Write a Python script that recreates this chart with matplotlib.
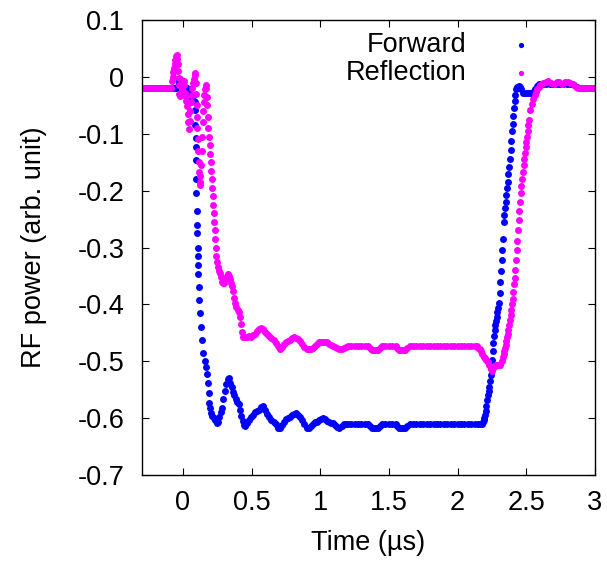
import matplotlib
matplotlib.use("Agg")
import matplotlib.pyplot as plt

plt.rcParams['font.family'] = ['Liberation Sans', 'DejaVu Sans']
plt.rcParams['axes.unicode_minus'] = False

# ---------------- data ----------------
fwd_t = [-0.30, -0.28, -0.26, -0.24, -0.22, -0.20, -0.18, -0.16, -0.14, -0.12, -0.10, -0.08, -0.06,
         -0.05, -0.04, -0.03, -0.025, -0.02, -0.01, 0.00, 0.01, 0.02, 0.03, 0.04, 0.05, 0.06, 0.07, 0.08, 0.088,
         0.090, 0.091, 0.092, 0.093, 0.094, 0.096, 0.098, 0.100, 0.102, 0.104, 0.107, 0.109, 0.111, 0.113,
         0.115, 0.119, 0.124, 0.130, 0.138, 0.148, 0.160, 0.168, 0.175, 0.182, 0.187, 0.192, 0.198, 0.206,
         0.215, 0.225, 0.235, 0.245, 0.255, 0.265, 0.275, 0.285, 0.295, 0.305, 0.315, 0.325, 0.335, 0.345,
         0.355, 0.365, 0.375, 0.385, 0.395, 0.405, 0.415, 0.425, 0.435, 0.445, 0.455, 0.465, 0.48, 0.495,
         0.51, 0.525, 0.54, 0.555, 0.57, 0.585, 0.60, 0.615, 0.63, 0.645, 0.66, 0.675, 0.69, 0.705, 0.72,
         0.735, 0.75, 0.765, 0.78, 0.795, 0.81, 0.825, 0.84, 0.855, 0.87, 0.885, 0.90, 0.915, 0.93, 0.945,
         0.96, 0.975, 0.99, 1.005, 1.02, 1.035, 1.05, 1.065, 1.08, 1.095, 1.11, 1.125, 1.14, 1.155, 1.17,
         1.185, 1.20, 1.225, 1.25, 1.275, 1.30, 1.325, 1.35, 1.36, 1.375, 1.39, 1.405, 1.42, 1.435, 1.45,
         1.475, 1.50, 1.525, 1.55, 1.56, 1.575, 1.59, 1.605, 1.62, 1.635, 1.65, 1.675, 1.70, 1.725, 1.75,
         1.775, 1.80, 1.825, 1.85, 1.875, 1.90, 1.925, 1.95, 1.975, 2.00, 2.025, 2.05, 2.075, 2.10, 2.125,
         2.15, 2.165, 2.18, 2.185, 2.19, 2.195, 2.20, 2.205, 2.21, 2.215, 2.22, 2.225, 2.23, 2.235, 2.24,
         2.245, 2.25, 2.255, 2.26, 2.265, 2.27, 2.275, 2.28, 2.285, 2.29, 2.295, 2.30, 2.305,
         2.31, 2.315, 2.32, 2.325, 2.33, 2.335, 2.34, 2.345, 2.35, 2.355, 2.36, 2.365, 2.37, 2.375, 2.38,
         2.385, 2.39, 2.395, 2.40, 2.405, 2.41, 2.415, 2.42, 2.428, 2.435, 2.445, 2.455, 2.465, 2.475, 2.49,
         2.505, 2.52, 2.535, 2.55, 2.565, 2.58, 2.595, 2.62, 2.645, 2.67, 2.695, 2.72, 2.745, 2.77, 2.795,
         2.82, 2.845, 2.87, 2.895, 2.92, 2.945, 2.97, 2.995]
fwd_v = [-0.020, -0.020, -0.020, -0.020, -0.020, -0.020, -0.020, -0.020, -0.020, -0.020, -0.020, -0.020, -0.020,
         -0.020, -0.018, -0.010, -0.005, -0.004, -0.010, -0.015, -0.018, -0.020, -0.020, -0.025, -0.030, -0.035, -0.038, -0.042, -0.044,
         -0.058, -0.085, -0.108, -0.123, -0.147, -0.180, -0.204, -0.235, -0.260, -0.275, -0.300, -0.315, -0.331, -0.347,
         -0.369, -0.392, -0.415, -0.439, -0.463, -0.485, -0.500, -0.510, -0.522, -0.538, -0.556, -0.573, -0.583, -0.591,
         -0.597, -0.600, -0.604, -0.609, -0.607, -0.598, -0.590, -0.582, -0.566, -0.552, -0.540, -0.532, -0.530, -0.538,
         -0.546, -0.554, -0.560, -0.566, -0.572, -0.576, -0.585, -0.596, -0.605, -0.612, -0.614, -0.609, -0.603, -0.598,
         -0.594, -0.590, -0.588, -0.585, -0.580, -0.578, -0.586, -0.593, -0.598, -0.603, -0.607, -0.611, -0.617, -0.617, -0.612,
         -0.606, -0.602, -0.600, -0.598, -0.595, -0.592, -0.591, -0.594, -0.598, -0.604, -0.611, -0.617, -0.617, -0.614, -0.610,
         -0.607, -0.606, -0.603, -0.601, -0.600, -0.601, -0.605, -0.607, -0.608, -0.609, -0.612, -0.616, -0.617, -0.614, -0.611,
         -0.610, -0.610, -0.610, -0.610, -0.610, -0.610, -0.610, -0.610, -0.613, -0.617, -0.617, -0.617, -0.617, -0.613, -0.610,
         -0.610, -0.610, -0.610, -0.610, -0.613, -0.617, -0.617, -0.617, -0.617, -0.613, -0.610, -0.610, -0.610, -0.610, -0.610,
         -0.610, -0.610, -0.610, -0.610, -0.610, -0.610, -0.610, -0.610, -0.610, -0.610, -0.610, -0.610, -0.610, -0.610, -0.610,
         -0.610, -0.610, -0.610, -0.607, -0.603, -0.599, -0.595, -0.588, -0.578, -0.569, -0.560, -0.553, -0.545, -0.535, -0.525,
         -0.511, -0.497, -0.482, -0.468, -0.456, -0.445, -0.437, -0.430, -0.422, -0.414, -0.406, -0.398, -0.380,
         -0.360, -0.342, -0.322, -0.304, -0.285, -0.255, -0.242, -0.230, -0.220, -0.208, -0.196, -0.184, -0.170, -0.158, -0.144,
         -0.128, -0.112, -0.096, -0.082, -0.068, -0.054, -0.042, -0.031, -0.022, -0.017, -0.016, -0.018, -0.022, -0.028, -0.029,
         -0.029, -0.029, -0.029, -0.027, -0.022, -0.016, -0.012, -0.012, -0.012, -0.012, -0.012, -0.012, -0.012, -0.012, -0.012,
         -0.012, -0.014, -0.018, -0.020, -0.020, -0.020, -0.020, -0.020]

ref_t = [-0.30, -0.28, -0.26, -0.24, -0.22, -0.20, -0.18, -0.16, -0.14, -0.12, -0.10, -0.09,
         -0.08, -0.075, -0.07, -0.065, -0.06, -0.055, -0.05, -0.045, -0.04, -0.037, -0.034, -0.031, -0.028,
         -0.025, -0.02, -0.015, -0.01, -0.005, 0.0, 0.005, 0.01, 0.015, 0.02, 0.025, 0.03, 0.035, 0.04, 0.045,
         0.05, 0.055, 0.06, 0.065, 0.07, 0.075, 0.08, 0.085, 0.09, 0.094, 0.097, 0.10, 0.103, 0.106, 0.109,
         0.112, 0.115, 0.118, 0.121, 0.124, 0.128, 0.132, 0.136, 0.140, 0.144, 0.148, 0.152, 0.156, 0.16,
         0.165, 0.17, 0.174, 0.178, 0.182, 0.186, 0.19, 0.194, 0.198, 0.202, 0.206, 0.21, 0.213, 0.216, 0.22,
         0.224, 0.228, 0.232, 0.236, 0.24, 0.244, 0.248, 0.255, 0.262, 0.27, 0.278, 0.286, 0.294, 0.302, 0.31,
         0.318, 0.326, 0.334, 0.342, 0.35, 0.358, 0.366, 0.374, 0.382, 0.39, 0.398, 0.406, 0.414, 0.422, 0.43,
         0.438, 0.45, 0.465, 0.48, 0.495, 0.51, 0.525, 0.54, 0.555, 0.57, 0.585, 0.60, 0.615, 0.63, 0.645,
         0.66, 0.675, 0.69, 0.705, 0.72, 0.735, 0.75, 0.765, 0.78, 0.795, 0.81, 0.825, 0.84, 0.855, 0.87,
         0.885, 0.90, 0.915, 0.93, 0.945, 0.96, 0.975, 0.99, 1.005, 1.02, 1.035, 1.05, 1.065, 1.08, 1.095,
         1.11, 1.125, 1.14, 1.155, 1.17, 1.185, 1.20, 1.225, 1.25, 1.275, 1.30, 1.325, 1.35, 1.36, 1.375,
         1.39, 1.405, 1.42, 1.435, 1.45, 1.475, 1.50, 1.525, 1.55, 1.56, 1.575, 1.59, 1.605, 1.62, 1.635,
         1.65, 1.675, 1.70, 1.725, 1.75, 1.775, 1.80, 1.825, 1.85, 1.875, 1.90, 1.925, 1.95, 1.975, 2.00,
         2.025, 2.05, 2.075, 2.10, 2.125, 2.14, 2.15, 2.16, 2.17, 2.18, 2.19, 2.20, 2.21, 2.22, 2.23, 2.24,
         2.25, 2.26, 2.27, 2.28, 2.29, 2.30, 2.31, 2.32, 2.33,
         2.335, 2.34, 2.345, 2.35, 2.355, 2.36, 2.365, 2.37, 2.375, 2.38, 2.385, 2.39, 2.395,
         2.40, 2.405, 2.41, 2.415, 2.42, 2.425, 2.43, 2.435, 2.44, 2.445, 2.45, 2.455, 2.46,
         2.465, 2.47, 2.475, 2.48, 2.485, 2.49, 2.495, 2.50, 2.505, 2.51, 2.515, 2.52,
         2.53, 2.54, 2.55, 2.56, 2.57, 2.58,
         2.59, 2.60, 2.62, 2.64, 2.66, 2.68, 2.70, 2.72, 2.74, 2.76, 2.78, 2.80, 2.82, 2.84, 2.86, 2.88, 2.90,
         2.92, 2.94, 2.96, 2.98, 3.0]
ref_v = [-0.020, -0.020, -0.020, -0.020, -0.020, -0.020, -0.020, -0.020, -0.020, -0.020, -0.020, -0.020,
         -0.008, 0.000, 0.008, 0.015, 0.022, 0.030, 0.036, 0.038, 0.032, 0.022, 0.010, -0.002, -0.015,
         -0.030, -0.033, -0.028, -0.022, -0.016, -0.011, -0.008, -0.015, -0.028, -0.035, -0.042, -0.052, -0.065, -0.080, -0.092,
         -0.078, -0.060, -0.045, -0.032, -0.020, -0.010, -0.003, 0.003, 0.006, -0.010, -0.030, -0.050, -0.070, -0.090, -0.110,
         -0.130, -0.150, -0.168, -0.185, -0.190, -0.175, -0.155, -0.130, -0.105, -0.080, -0.060, -0.045, -0.032, -0.022,
         -0.015, -0.020, -0.035, -0.050, -0.070, -0.090, -0.105, -0.120, -0.135, -0.150, -0.165, -0.180, -0.195, -0.210, -0.225,
         -0.240, -0.255, -0.270, -0.285, -0.300, -0.315, -0.325, -0.335, -0.342, -0.345, -0.352, -0.360, -0.363, -0.362, -0.355,
         -0.350, -0.347, -0.350, -0.356, -0.362, -0.368, -0.377, -0.388, -0.398, -0.405, -0.410, -0.414, -0.422, -0.435, -0.448,
         -0.457, -0.457, -0.457, -0.455, -0.457, -0.454, -0.452, -0.447, -0.444, -0.442, -0.444, -0.449, -0.452, -0.455, -0.459,
         -0.463, -0.468, -0.474, -0.478, -0.475, -0.469, -0.466, -0.464, -0.462, -0.459, -0.458, -0.459, -0.461, -0.464, -0.469,
         -0.475, -0.479, -0.479, -0.478, -0.477, -0.474, -0.470, -0.467, -0.466, -0.466, -0.466, -0.467, -0.469, -0.471, -0.473,
         -0.475, -0.477, -0.478, -0.479, -0.477, -0.475, -0.474, -0.474, -0.474, -0.474, -0.474, -0.474, -0.474, -0.477, -0.481,
         -0.481, -0.481, -0.481, -0.477, -0.474, -0.474, -0.474, -0.474, -0.474, -0.477, -0.481, -0.481, -0.481, -0.481, -0.477,
         -0.474, -0.474, -0.474, -0.474, -0.474, -0.474, -0.474, -0.474, -0.474, -0.474, -0.474, -0.474, -0.474, -0.474, -0.474,
         -0.474, -0.474, -0.474, -0.474, -0.474, -0.474, -0.476, -0.479, -0.482, -0.487, -0.492, -0.495, -0.498, -0.502, -0.507, -0.513,
         -0.517, -0.512, -0.508, -0.507, -0.507, -0.507, -0.506, -0.500, -0.492,
         -0.487, -0.482, -0.477, -0.472, -0.465, -0.458, -0.452, -0.445, -0.437, -0.428, -0.419, -0.410, -0.400,
         -0.390, -0.378, -0.365, -0.353, -0.340, -0.322, -0.305, -0.288, -0.270, -0.252, -0.235, -0.220, -0.205,
         -0.192, -0.180, -0.167, -0.155, -0.144, -0.133, -0.124, -0.115, -0.105, -0.095, -0.085, -0.075,
         -0.058, -0.047, -0.039, -0.032, -0.027, -0.022,
         -0.017, -0.014, -0.011, -0.009, -0.008, -0.010, -0.012, -0.009, -0.009, -0.013, -0.009, -0.009, -0.011, -0.012, -0.018, -0.020, -0.020,
         -0.020, -0.020, -0.020, -0.020, -0.020]

series_labels = ["Forward", "Reflection"]
x_ticks = [0, 0.5, 1, 1.5, 2, 2.5, 3]
y_ticks = [0.1, 0, -0.1, -0.2, -0.3, -0.4, -0.5, -0.6, -0.7]

# ---------------- figure ----------------
fig = plt.figure(figsize=(6.07, 5.61), dpi=100)
ax = fig.add_axes([0.2334, 0.1533, 0.7468, 0.8110])

ms = 5.0
ax.plot(fwd_t, fwd_v, 'o', color='#0000ff', ms=ms, mew=0, clip_on=True)
ax.plot(ref_t, ref_v, 'o', color='#ff00ff', ms=ms, mew=0, clip_on=True)

ax.set_xlim(-0.3, 3.0)
ax.set_ylim(-0.7, 0.1)
ax.set_xticks(x_ticks)
ax.set_xticklabels([f"{v:g}" for v in x_ticks])
ax.set_yticks(y_ticks)
ax.set_yticklabels([f"{v:g}" for v in y_ticks])

fs = 19.5
ax.tick_params(direction='in', length=5, width=0.8, top=True, right=True,
               labelsize=fs, colors='black')
ax.tick_params(axis='y', pad=12.5)
ax.tick_params(axis='x', pad=11)
for s in ax.spines.values():
    s.set_linewidth(1.0)
    s.set_color('black')

ax.set_xlabel("Time (µs)", fontsize=fs, labelpad=10)
ax.set_ylabel("RF power (arb. unit)", fontsize=fs, labelpad=22)

# legend (gnuplot style: right-aligned text, point to the right)
colors = ['#0000ff', '#ff00ff']
ys = [0.945, 0.8835]
for lab, c, yy in zip(series_labels, colors, ys):
    ax.text(0.7176, yy, lab, transform=ax.transAxes, ha='right', va='center', fontsize=fs)
    ax.plot([0.8368], [yy], 'o', color=c, ms=3.8, mew=0, transform=ax.transAxes, clip_on=False)

fig.savefig("out.png", dpi=100)
